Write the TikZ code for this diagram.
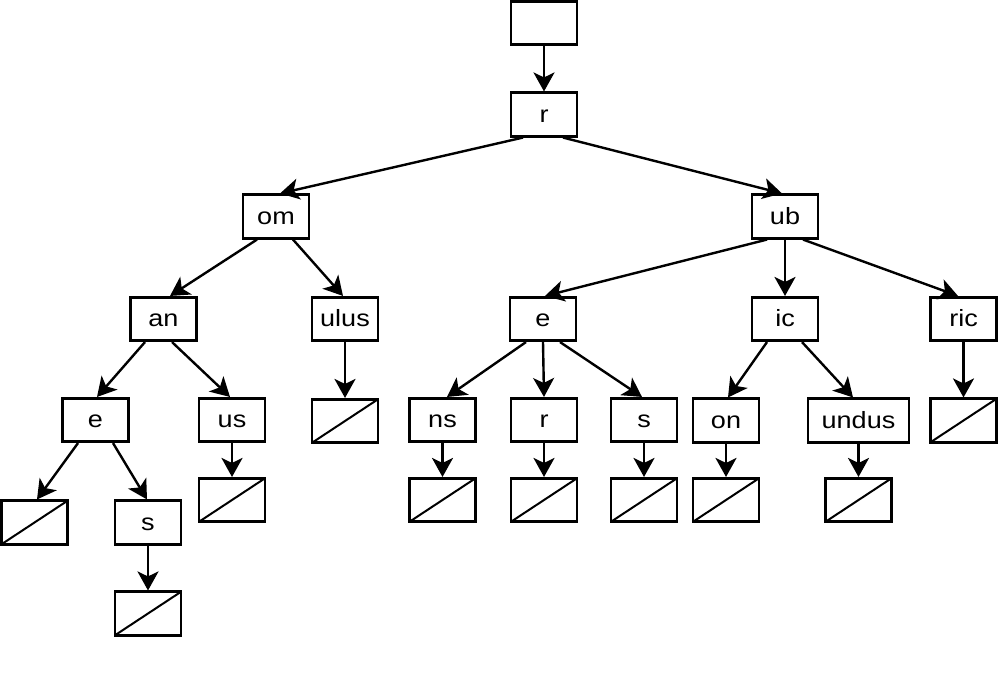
\documentclass[tikz,border=0pt]{standalone}
\usepackage{fontspec}
\setmainfont{Liberation Sans}[FakeStretch=1.15]
\usetikzlibrary{arrows.meta}
\tikzset{
  box/.style={draw, line width=2.6pt, minimum width=66pt, minimum height=43.5pt, inner sep=0pt, text height=17pt, text depth=1.5pt, font=\fontsize{23.5}{28}\selectfont},
  nilbox/.style={box, path picture={\draw[line width=2pt] (path picture bounding box.south west) -- (path picture bounding box.north east);}},
  edge/.style={line width=2.4pt, -{Stealth[length=19pt, width=21pt, inset=5pt]}}
}
\begin{document}
\begin{tikzpicture}[x=1pt, y=-1pt]
\useasboundingbox (0,0) rectangle (1000,683);
\node[box] (top) at (544,23) {};
\node[box] (r) at (544,114.5) {r};
\node[box] (om) at (276,216.5) {om};
\node[box] (ub) at (785,216.5) {ub};
\node[box] (an) at (163.5,319) {an};
\node[box] (ulus) at (345,319) {ulus};
\node[box] (e) at (543,319) {e};
\node[box] (ic) at (785,319) {ic};
\node[box] (ric) at (963.5,319) {ric};
\node[box] (eL) at (95.5,420) {e};
\node[box] (us) at (232,420) {us};
\node[nilbox] (ulusN) at (345,421) {};
\node[box] (ns) at (442.5,420) {ns};
\node[box] (r2) at (544,420) {r};
\node[box] (s2) at (644,420) {s};
\node[box] (on) at (726,420.5) {on};
\node[box, minimum width=101pt] (undus) at (858.5,420.5) {undus};
\node[nilbox] (ricN) at (963.5,420.5) {};
\node[nilbox] (eLN) at (34.5,522.5) {};
\node[box] (sL) at (148,522.5) {s};
\node[nilbox] (usN) at (232,500) {};
\node[nilbox] (nsN) at (442.5,500) {};
\node[nilbox] (r2N) at (544,500) {};
\node[nilbox] (s2N) at (644,500) {};
\node[nilbox] (onN) at (726,500) {};
\node[nilbox] (undusN) at (858.5,500) {};
\node[nilbox] (sLN) at (148,613.5) {};

\draw[edge] (top) -- (r);
\draw[edge] ([xshift=-21pt]r.south) -- ([xshift=4pt]om.north);
\draw[edge] ([xshift=19pt]r.south) -- ([xshift=-3pt]ub.north);
\draw[edge] ([xshift=-19pt]om.south) -- ([xshift=6.5pt]an.north);
\draw[edge] ([xshift=17pt]om.south) -- ([xshift=-2pt]ulus.north);
\draw[edge] ([xshift=-18.5pt]an.south) -- ([xshift=1.5pt]eL.north);
\draw[edge] ([xshift=8.5pt]an.south) -- ([xshift=-2pt]us.north);
\draw[edge] (ulus) -- (ulusN);
\draw[edge] ([xshift=-17.5pt]eL.south) -- ([xshift=2.5pt]eLN.north);
\draw[edge] ([xshift=17.5pt]eL.south) -- ([xshift=-1pt]sL.north);
\draw[edge] (sL) -- (sLN);
\draw[edge] (us) -- (usN);
\draw[edge] ([xshift=-18pt]ub.south) -- ([xshift=2pt]e.north);
\draw[edge] (ub) -- (ic);
\draw[edge] ([xshift=18pt]ub.south) -- ([xshift=-5.5pt]ric.north);
\draw[edge] ([xshift=-17pt]e.south) -- ([xshift=4.5pt]ns.north);
\draw[edge] (e.south) -- (r2.north);
\draw[edge] ([xshift=17pt]e.south) -- ([xshift=-2pt]s2.north);
\draw[edge] (ns) -- (nsN);
\draw[edge] (r2) -- (r2N);
\draw[edge] (s2) -- (s2N);
\draw[edge] ([xshift=-18pt]ic.south) -- ([xshift=2pt]on.north);
\draw[edge] ([xshift=17pt]ic.south) -- ([xshift=-5.5pt]undus.north);
\draw[edge] (on) -- (onN);
\draw[edge] (undus) -- (undusN);
\draw[edge] (ric) -- (ricN);
\end{tikzpicture}
\end{document}
